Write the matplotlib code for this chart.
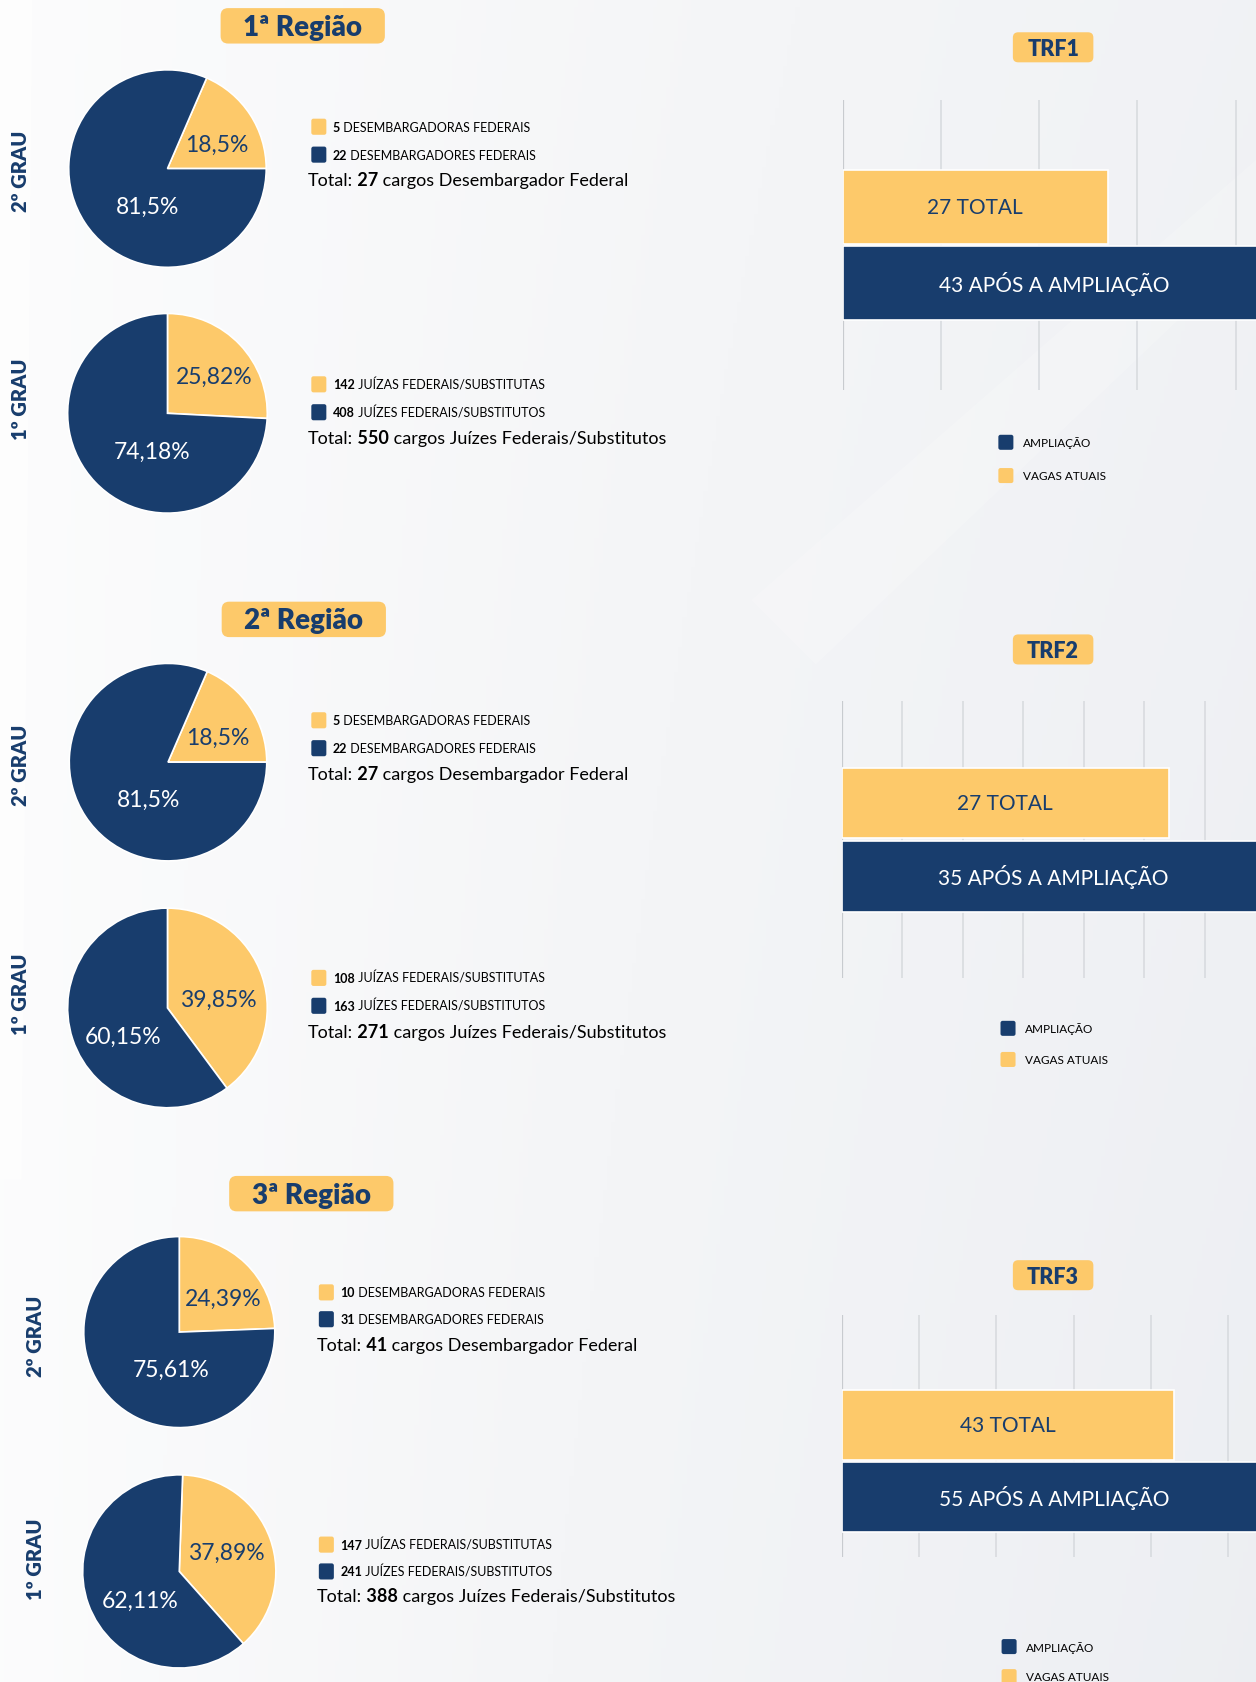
import numpy as np
import matplotlib.pyplot as plt
from matplotlib.patches import FancyBboxPatch
from matplotlib.colors import LinearSegmentedColormap

plt.rcParams['font.family'] = ['Lato', 'DejaVu Sans']

NAVY = '#183d6d'
GOLD = '#fdc96a'

# ---------------------------------------------------------------- #
# data

regioes = ['1ª Região', '2ª Região', '3ª Região']
trfs = ['TRF1', 'TRF2', 'TRF3']

# 2º grau
desembargadoras = [5, 5, 10]
desembargadores = [22, 22, 31]
pct_2grau_mulheres = [18.5, 18.5, 24.39]
pct_2grau_homens = [81.5, 81.5, 75.61]

# 1º grau
juizas = [142, 108, 147]
juizes = [408, 163, 241]
pct_1grau_mulheres = [25.82, 39.85, 37.89]
pct_1grau_homens = [74.18, 60.15, 62.11]

# bars
vagas_atuais = [27, 27, 43]
apos_ampliacao = [43, 35, 55]
grid_step = [10, 5, 10]

# ---------------------------------------------------------------- #
# layout (reference grid 1170 x 1568)

W, H = 1170, 1568

header_xy = [(282, 25), (283, 578), (290, 1113)]
pie_2_xy = [(156, 158, 92), (156.5, 711, 92), (167, 1242, 89)]
pie_1_xy = [(156, 386, 93), (156, 940, 93), (167, 1465, 90)]
pie_start = [(0, True, 90, False), (0, True, 90, False), (90, False, 88, False)]
grau_x = [19, 19, 33]
grau_y = [(160, 372), (713, 926), (1245, 1453)]
leg_x = [(290, 287), (290, 287), (297, 295)]
leg_2_y = [(119, 145, 169), (672, 698, 722), (1205, 1230, 1254)]
leg_1_y = [(359, 385, 409), (912, 938, 962), (1440, 1465, 1488)]

# label offsets inside pies, in radius units (yellow, navy)
lab_2 = [((0.5, 0.25), (-0.2, -0.38)), ((0.5, 0.25), (-0.2, -0.38)),
         ((0.46, 0.35), (-0.09, -0.39))]
lab_1 = [((0.47, 0.37), (-0.15, -0.38)), ((0.51, 0.09), (-0.44, -0.28)),
         ((0.49, 0.2), (-0.41, -0.3))]

trf_xy = [(981, 45), (981, 606), (981, 1189)]
bar_grid = [(94, 364), (654, 912), (1226, 1452)]
bar_x0 = [785, 784, 784]
bar_ppu = [9.15, 11.28, 7.2]
bar_cy = [(194, 265), (749, 817.5), (1328.5, 1395.5)]
bar_h = [69, 66, 65]
bar_leg = [(930, 413, 444), (932, 959, 988), (933, 1535, 1563)]

# ---------------------------------------------------------------- #

fig = plt.figure(figsize=(12.56, 16.83), dpi=100)
bg = fig.add_axes([0, 0, 1, 1])
bg.set_xlim(0, W)
bg.set_ylim(H, 0)
bg.axis('off')

# soft background
gx, gy = np.meshgrid(np.linspace(0, 1, 300), np.linspace(0, 1, 400))
shade = 0.15 + 0.55 * gx + 0.25 * gy * gx
cmap = LinearSegmentedColormap.from_list('bgc', ['#ffffff', '#f4f5f7', '#eceef2'])
bg.imshow(shade, cmap=cmap, extent=(0, W, H, 0), aspect='auto', vmin=0, vmax=1, zorder=0)
bg.fill([1170, 1170, 760, 700], [150, 230, 620, 560], color='white', alpha=0.18, lw=0, zorder=0.5)
bg.fill([0, 30, 20, 0], [0, 0, 1100, 1100], color='white', alpha=0.6, lw=0, zorder=0.5)


def add_ax(x0, y0, x1, y1):
    return fig.add_axes([x0 / W, 1 - y1 / H, (x1 - x0) / W, (y1 - y0) / H])


def box(cx, cy, w, h, color, rs=6):
    bg.add_patch(FancyBboxPatch((cx - w / 2, cy - h / 2), w, h,
                                boxstyle=f'round,pad=0,rounding_size={rs}',
                                fc=color, ec='none', zorder=2))


def rich(x, y, bold, rest, size):
    t = bg.text(x, y, bold, fontsize=size, fontweight='bold', color='black',
                va='center', ha='left', zorder=3)
    bg.annotate(' ' + rest, xy=(1, 0), xycoords=t, fontsize=size,
                color='black', va='bottom', ha='left', zorder=3)


def fmt(v):
    return f'{v:g}'.replace('.', ',') + '%'


def pie(cx, cy, r, vals, start, ccw, offs):
    ax = add_ax(cx - r, cy - r, cx + r, cy + r)
    ax.pie(vals, colors=[GOLD, NAVY], startangle=start, counterclock=ccw,
           radius=1, wedgeprops=dict(edgecolor='white', linewidth=1.2))
    ax.set_xlim(-1, 1)
    ax.set_ylim(-1, 1)
    ax.set_aspect('equal')
    ax.axis('off')
    for (dx, dy), v, c in zip(offs, vals, [NAVY, 'white']):
        ax.text(dx, dy, fmt(v), ha='center', va='center', color=c,
                fontsize=16.5, fontweight='normal')


def legend(sx, tx, ys, n_f, n_m, txt_f, txt_m, total_txt):
    for y, n, t, c in zip(ys[:2], [n_f, n_m], [txt_f, txt_m], [GOLD, NAVY]):
        box(sx + 7, y, 14, 15, c, rs=2)
        rich(sx + 20, y, str(n), t, 9)
    t = bg.text(tx, ys[2], 'Total:', fontsize=13, color='black', va='center', ha='left')
    b = bg.annotate(' ' + str(n_f + n_m), xy=(1, 0), xycoords=t, fontsize=13,
                    fontweight='bold', va='bottom', ha='left')
    bg.annotate(' ' + total_txt, xy=(1, 0), xycoords=b, fontsize=13,
                va='bottom', ha='left')


for i in range(3):
    # header
    hx, hy = header_xy[i]
    box(hx, hy, 153, 33, GOLD, rs=7)
    bg.text(hx, hy + 1, regioes[i], ha='center', va='center', fontsize=20,
            fontweight='heavy', color=NAVY, zorder=3)

    # pies
    s2, c2, s1, c1 = pie_start[i]
    pie(*pie_2_xy[i], [pct_2grau_mulheres[i], pct_2grau_homens[i]], s2, c2, lab_2[i])
    pie(*pie_1_xy[i], [pct_1grau_mulheres[i], pct_1grau_homens[i]], s1, c1, lab_1[i])

    for y, lab in zip(grau_y[i], ['2º GRAU', '1º GRAU']):
        bg.text(grau_x[i], y, lab, rotation=90, ha='center', va='center',
                fontsize=14.5, fontweight='heavy', color=NAVY)

    sx, tx = leg_x[i]
    legend(sx, tx, leg_2_y[i], desembargadoras[i], desembargadores[i],
           'DESEMBARGADORAS FEDERAIS', 'DESEMBARGADORES FEDERAIS',
           'cargos Desembargador Federal')
    legend(sx, tx, leg_1_y[i], juizas[i], juizes[i],
           'JUÍZAS FEDERAIS/SUBSTITUTAS', 'JUÍZES FEDERAIS/SUBSTITUTOS',
           'cargos Juízes Federais/Substitutos')

    # bar chart
    bx, by = trf_xy[i]
    box(bx, by, 75, 28, GOLD, rs=5)
    bg.text(bx, by + 1, trfs[i], ha='center', va='center', fontsize=15.5,
            fontweight='heavy', color=NAVY, zorder=3)

    top, bot = bar_grid[i]
    x0, ppu = bar_x0[i], bar_ppu[i]
    x1 = 1200
    xmax = (x1 - x0) / ppu
    c0, c1_ = bar_cy[i]
    unit = c1_ - c0
    ax = add_ax(x0, top, x1, bot)
    ax.set_facecolor('none')
    vals = [vagas_atuais[i], apos_ampliacao[i]]
    ax.barh([0, 1], vals, height=bar_h[i] / unit, color=[GOLD, NAVY],
            edgecolor='white', linewidth=1.2, zorder=2)
    ax.set_xlim(0, xmax)
    ax.set_ylim((bot - c0) / unit, (top - c0) / unit)
    ax.set_xticks(np.arange(0, xmax, grid_step[i]))
    ax.grid(axis='x', color='#dadde1', linewidth=1.3, zorder=0)
    ax.set_axisbelow(True)
    ax.tick_params(length=0, labelbottom=False, labelleft=False)
    for s in ax.spines.values():
        s.set_visible(False)
    ax.axvline(0, color='#c8cbcf', lw=1.6, zorder=1)
    ax.text(vals[0] / 2, 0, f'{vals[0]} TOTAL', ha='center', va='center',
            fontsize=15, color=NAVY, zorder=3)
    ax.text(vals[1] / 2, 1, f'{vals[1]} APÓS A AMPLIAÇÃO', ha='center',
            va='center', fontsize=15, color='white', zorder=3)

    lx, ly_a, ly_v = bar_leg[i]
    box(lx + 7, ly_a, 14, 14, NAVY, rs=2)
    box(lx + 7, ly_v, 14, 14, GOLD, rs=2)
    bg.text(lx + 23, ly_a, 'AMPLIAÇÃO', va='center', fontsize=8.5, color='black')
    bg.text(lx + 23, ly_v, 'VAGAS ATUAIS', va='center', fontsize=8.5, color='black')

fig.savefig('out.png', dpi=100)
